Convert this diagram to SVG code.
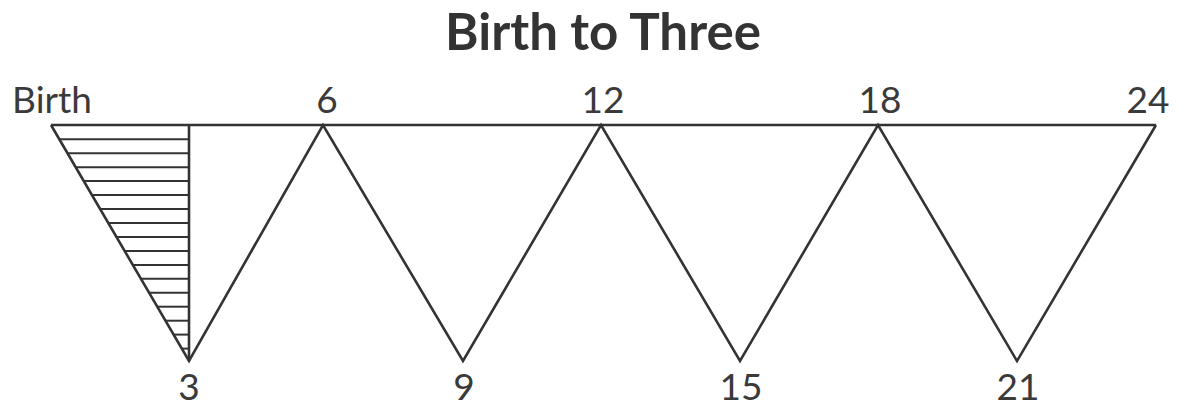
<svg xmlns="http://www.w3.org/2000/svg" width="1186" height="407" viewBox="0 0 1186 407">
<style>
.ln{fill:none;stroke:#333;stroke-width:2.6;stroke-linejoin:miter}
.h{stroke:#333;stroke-width:2}
.lbl{font-family:Lato,"Open Sans","Liberation Sans",sans-serif;font-size:37px;fill:#3a3a3a;text-anchor:middle}
.title{font-family:Lato,"Open Sans","Liberation Sans",sans-serif;font-size:51px;font-weight:bold;fill:#333;text-anchor:middle}
</style>
<rect width="1186" height="407" fill="#fff"/>
<text class="title" x="603" y="50">Birth to Three</text>
<g id="hatch">
<line class="h" x1="59.2" y1="139.3" x2="189" y2="139.3"/>
<line class="h" x1="67.4" y1="153.2" x2="189" y2="153.2"/>
<line class="h" x1="75.5" y1="167.2" x2="189" y2="167.2"/>
<line class="h" x1="83.7" y1="181.1" x2="189" y2="181.1"/>
<line class="h" x1="91.9" y1="195.1" x2="189" y2="195.1"/>
<line class="h" x1="100.0" y1="209.1" x2="189" y2="209.1"/>
<line class="h" x1="108.2" y1="223.0" x2="189" y2="223.0"/>
<line class="h" x1="116.4" y1="237.0" x2="189" y2="237.0"/>
<line class="h" x1="124.5" y1="250.9" x2="189" y2="250.9"/>
<line class="h" x1="132.7" y1="264.9" x2="189" y2="264.9"/>
<line class="h" x1="140.9" y1="278.8" x2="189" y2="278.8"/>
<line class="h" x1="149.0" y1="292.8" x2="189" y2="292.8"/>
<line class="h" x1="157.2" y1="306.7" x2="189" y2="306.7"/>
<line class="h" x1="165.4" y1="320.7" x2="189" y2="320.7"/>
<line class="h" x1="173.5" y1="334.6" x2="189" y2="334.6"/>
<line class="h" x1="181.7" y1="348.6" x2="189" y2="348.6"/>
</g>
<g id="connectors">
<line class="ln" x1="51" y1="125" x2="1156" y2="125"/>
<line class="ln" x1="189" y1="125" x2="189" y2="361"/>
<polyline class="ln" points="51,125 189,361 323,125 463,361 601,125 740,361 878,125 1017,361 1156,125"/>
</g>
<g id="labels">
<text class="lbl" x="52" y="113">Birth</text>
<text class="lbl" x="327" y="113">6</text>
<text class="lbl" x="603" y="113">12</text>
<text class="lbl" x="880" y="113">18</text>
<text class="lbl" x="1148" y="113">24</text>
<text class="lbl" x="189" y="400">3</text>
<text class="lbl" x="464" y="400">9</text>
<text class="lbl" x="741" y="400">15</text>
<text class="lbl" x="1018" y="400">21</text>
</g>
</svg>
